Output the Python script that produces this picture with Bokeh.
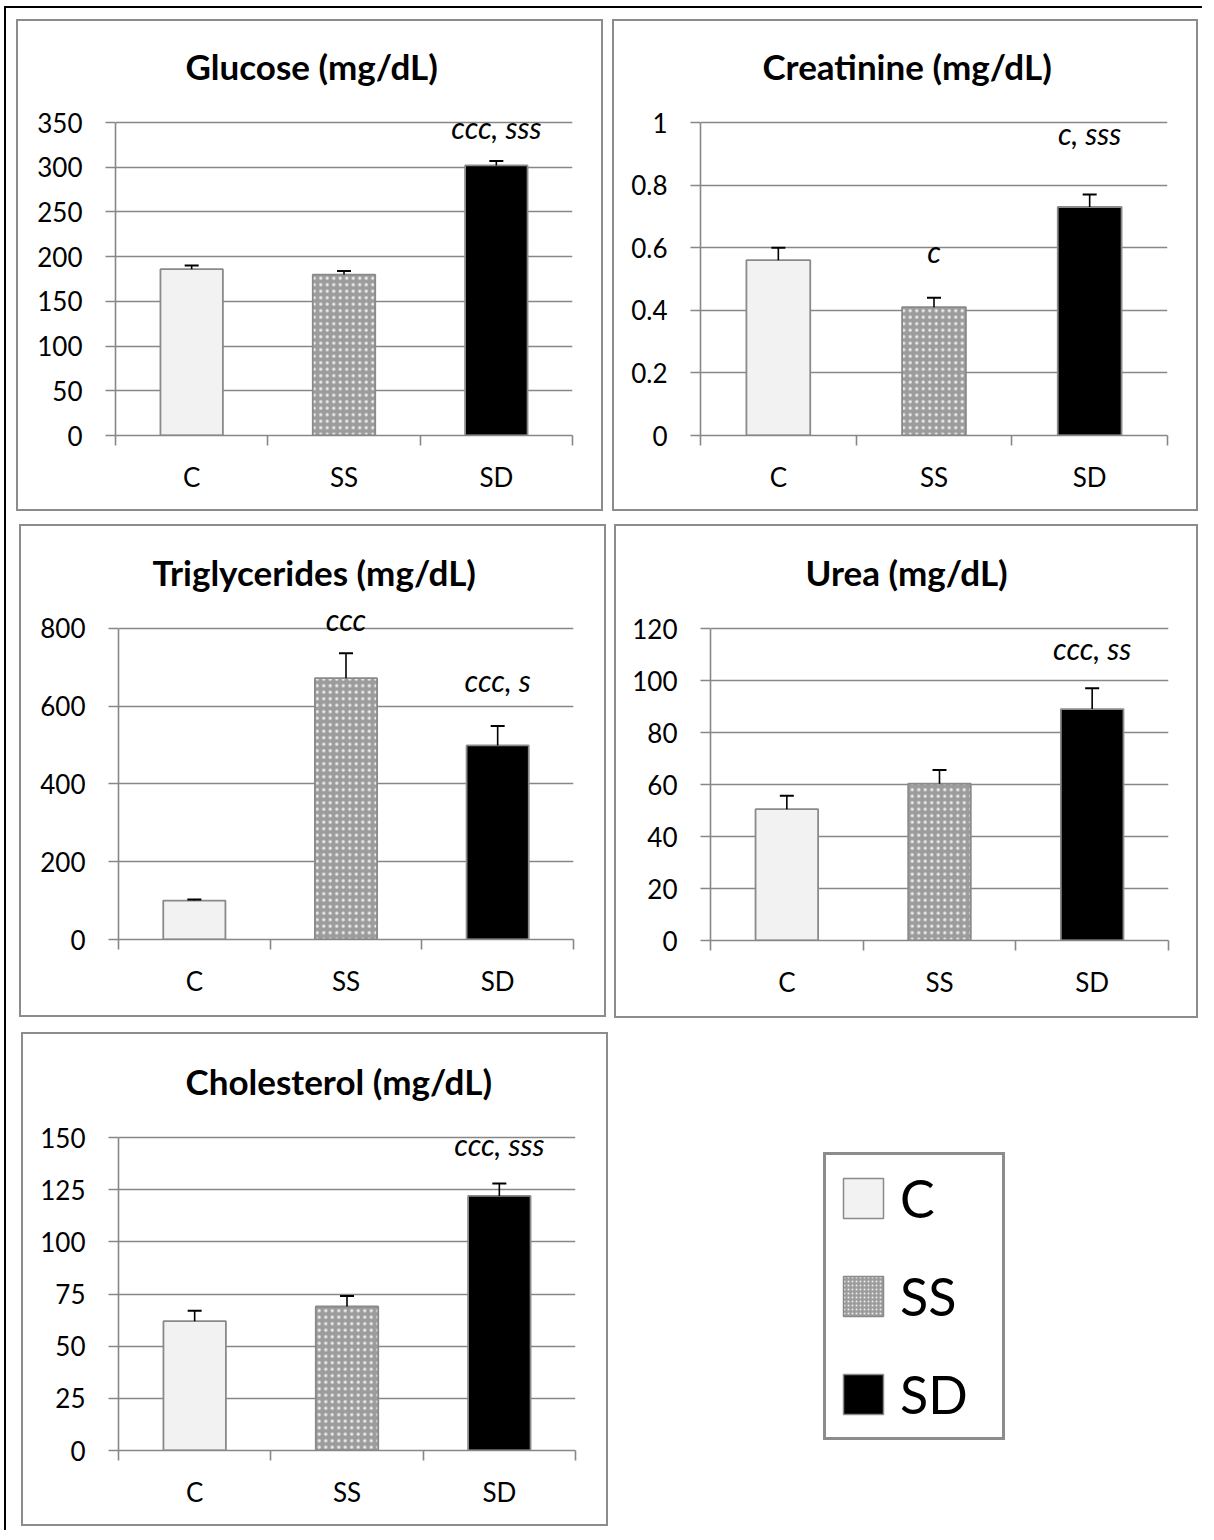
from bokeh.plotting import figure
from bokeh.models import (Range1d, FixedTicker, ColumnDataSource, Whisker, TeeHead,
                          Label, Legend, LegendItem)
from bokeh.layouts import row, column
from bokeh.embed import file_html
from bokeh.resources import INLINE

# ---------------- data ----------------
categories = ["C", "SS", "SD"]

glucose_mean = [186, 180, 302]
glucose_err = [4, 4, 5]
glucose_sig = ["", "", "ccc, sss"]
glucose_sig_y = [None, None, 345]
glucose_ticks = [0, 50, 100, 150, 200, 250, 300, 350]
glucose_labels = ["0", "50", "100", "150", "200", "250", "300", "350"]

creat_mean = [0.56, 0.41, 0.73]
creat_err = [0.04, 0.03, 0.04]
creat_sig = ["", "c", "c, sss"]
creat_sig_y = [None, 0.59, 0.965]
creat_ticks = [0, 0.2, 0.4, 0.6, 0.8, 1]
creat_labels = ["0", "0.2", "0.4", "0.6", "0.8", "1"]

trig_mean = [100, 672, 499]
trig_err = [3, 64, 50]
trig_sig = ["", "ccc", "ccc, s"]
trig_sig_y = [None, 825, 667]
trig_ticks = [0, 200, 400, 600, 800]
trig_labels = ["0", "200", "400", "600", "800"]

urea_mean = [50.5, 60.3, 89]
urea_err = [5.2, 5.3, 8]
urea_sig = ["", "", "ccc, ss"]
urea_sig_y = [None, None, 112.5]
urea_ticks = [0, 20, 40, 60, 80, 100, 120]
urea_labels = ["0", "20", "40", "60", "80", "100", "120"]

chol_mean = [62, 69, 122]
chol_err = [5, 5, 6]
chol_sig = ["", "", "ccc, sss"]
chol_sig_y = [None, None, 147]
chol_ticks = [0, 25, 50, 75, 100, 125, 150]
chol_labels = ["0", "25", "50", "75", "100", "125", "150"]

# ---------------- style ----------------
FONT = "Lato"
GRAY = "#878787"
BAR_LINE = "#8a8a8a"
FILLS = ["#f2f2f2", "#9c9c9c", "#000000"]
HATCH = [" ", ".", " "]
HEAD = 16  # px of empty room kept above the top gridline

xs = [i + 0.5 for i in range(len(categories))]
edges = [float(i) for i in range(len(categories) + 1)]


def make_panel(title, title_off, means, errs, sig, sig_y, ticks, tlabels,
               W, mbl, mbr, mbt, fh, mbb, margin):
    top = ticks[-1]
    y_end = top * (fh + HEAD) / fh
    H = mbt + fh + HEAD + mbb
    p = figure(width=W, height=H, x_range=Range1d(0, len(categories)),
               y_range=Range1d(0, y_end), output_backend="svg",
               toolbar_location=None, min_border_left=mbl, min_border_right=mbr,
               min_border_top=mbt, min_border_bottom=mbb)
    p.margin = margin
    p.styles = {"outline": "2px solid #8c8c8c"}
    p.background_fill_color = "white"
    p.border_fill_color = "white"
    p.outline_line_color = None

    p.title.text = title
    p.title.align = "left"
    p.title.offset = title_off
    p.title.text_font = FONT
    p.title.text_font_size = "35px"
    p.title.text_font_style = "bold"
    p.title.text_color = "black"
    p.title.standoff = 40

    src = ColumnDataSource(dict(
        x=xs, top=means, upper=[m + e for m, e in zip(means, errs)],
        fill=FILLS, hatch=HATCH))
    p.vbar(x="x", top="top", width=0.41, source=src, fill_color="fill",
           line_color=BAR_LINE, line_width=1.8, hatch_pattern="hatch",
           hatch_color="#ececec", hatch_scale=6.5, hatch_weight=1.1)

    w = Whisker(source=src, base="x", upper="upper", lower="top",
                line_color="black", line_width=1.6, level="annotation",
                upper_head=TeeHead(size=14, line_color="black", line_width=2),
                lower_head=None)
    p.add_layout(w)

    for x, y, s in zip(xs, sig_y, sig):
        if s:
            p.add_layout(Label(x=x, y=y, text=s, text_align="center",
                               text_baseline="middle", text_font=FONT,
                               text_font_size="30px", text_font_style="italic",
                               text_color="black"))

    # y axis
    ya = p.yaxis[0]
    ya.ticker = FixedTicker(ticks=ticks)
    ya.bounds = (0, top)
    ya.major_label_overrides = {t: l for t, l in zip(ticks, tlabels)}
    ya.major_label_text_font = FONT
    ya.major_label_text_font_size = "26px"
    ya.major_label_text_color = "black"
    ya.major_label_standoff = 23
    ya.axis_line_color = GRAY
    ya.axis_line_width = 1.6
    ya.major_tick_line_color = GRAY
    ya.major_tick_line_width = 1.6
    ya.major_tick_out = 10
    ya.major_tick_in = 0
    ya.minor_tick_line_color = None

    # x axis: labels at centres, ticks at category boundaries
    xa = p.xaxis[0]
    xa.ticker = FixedTicker(ticks=xs, minor_ticks=edges)
    xa.major_label_overrides = {x: c for x, c in zip(xs, categories)}
    xa.major_label_text_font = FONT
    xa.major_label_text_font_size = "26px"
    xa.major_label_text_color = "black"
    xa.major_label_standoff = 15
    xa.axis_line_color = GRAY
    xa.axis_line_width = 1.6
    xa.major_tick_line_color = None
    xa.major_tick_out = 0
    xa.major_tick_in = 0
    xa.minor_tick_line_color = GRAY
    xa.minor_tick_line_width = 1.6
    xa.minor_tick_out = 10
    xa.minor_tick_in = 0

    p.xgrid.visible = False
    p.ygrid.ticker = FixedTicker(ticks=ticks)
    p.ygrid.grid_line_color = GRAY
    p.ygrid.grid_line_width = 1.6
    return p


p1 = make_panel("Glucose (mg/dL)", 70, glucose_mean, glucose_err, glucose_sig, glucose_sig_y,
                glucose_ticks, glucose_labels, 583, 97, 29, 85, 313, 74, (13, 0, 0, 12))
p2 = make_panel("Creatinine (mg/dL)", 62, creat_mean, creat_err, creat_sig, creat_sig_y,
                creat_ticks, creat_labels, 582, 86, 29, 85, 313, 74, (13, 4, 0, 13))
p3 = make_panel("Triglycerides (mg/dL)", 34, trig_mean, trig_err, trig_sig, trig_sig_y,
                trig_ticks, trig_labels, 583, 97, 31, 85, 313, 75, (17, 0, 0, 15))
p4 = make_panel("Urea (mg/dL)", 95, urea_mean, urea_err, urea_sig, urea_sig_y,
                urea_ticks, urea_labels, 580, 94, 28, 86, 312, 76, (17, 4, 0, 12))
p5 = make_panel("Cholesterol (mg/dL)", 67, chol_mean, chol_err, chol_sig, chol_sig_y,
                chol_ticks, chol_labels, 583, 95, 31, 87, 313, 74, (18, 0, 2, 17))

# legend panel: one (hidden) bar renderer per group supplies the legend swatches
pl = figure(width=240, height=87 + 304 + 74, output_backend="svg", toolbar_location=None,
            x_axis_location=None, y_axis_location=None,
            x_range=Range1d(0, len(categories)), y_range=Range1d(0, chol_ticks[-1]),
            min_border_left=0, min_border_top=87, min_border_right=0, min_border_bottom=74)
pl.title = None
pl.margin = (47, 0, 0, 215)
pl.outline_line_color = None
pl.background_fill_color = "white"
pl.border_fill_color = None
pl.xgrid.visible = False
pl.ygrid.visible = False
items = []
for i, (c, f, h) in enumerate(zip(categories, FILLS, HATCH)):
    r = pl.vbar(x=[xs[i]], top=[chol_mean[i]], width=0.41,
                fill_color=f, line_color=BAR_LINE, line_width=1.5, hatch_pattern=h,
                hatch_color="#ececec", hatch_scale=4, hatch_weight=0.9)
    r.visible = False
    items.append(LegendItem(label=c, renderers=[r]))
leg = Legend(items=items, location="top_left", margin=2, padding=12,
             border_line_color="#8c8c8c", border_line_width=3, border_line_alpha=1,
             background_fill_color="white", background_fill_alpha=1,
             inactive_fill_alpha=0,
             glyph_width=50, glyph_height=50, label_standoff=12,
             label_height=40, label_width=90, spacing=36,
             label_text_font=FONT, label_text_font_size="52px",
             label_text_color="black")
pl.add_layout(leg, "center")

layout = column(row(p1, p2), row(p3, p4), row(p5, pl), width=1198, height=1524)
layout.margin = (8, 0, 0, 6)
layout.styles = {"box-shadow": "-2px -2px 0 0 #000"}

open("out.html", "w").write(file_html(layout, INLINE))
